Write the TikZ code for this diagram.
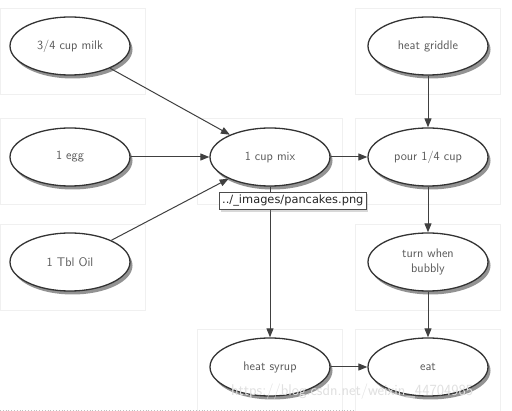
\documentclass[tikz,border=0pt]{standalone}
\usepackage{fontspec}
\newfontfamily\labfont{DejaVu Sans}
\usetikzlibrary{shadows,arrows.meta,shapes.geometric}
\begin{document}
\begin{tikzpicture}[x=1pt,y=-1pt,
  task/.style={ellipse,draw=black!80,line width=1.3pt,fill=white,minimum width=120pt,minimum height=58pt,
    font=\sffamily\fontsize{12.5}{15}\selectfont,text=black!65,align=center,inner sep=1pt,
    drop shadow={opacity=0.6,shadow xshift=2.5pt,shadow yshift=-3.5pt,fill=black!70}},
  panel/.style={draw=black!6,line width=0.5pt},
  conn/.style={draw=black!75,line width=1pt,-{Triangle[length=9pt,width=7pt]}}]
\useasboundingbox (0,0) rectangle (512,411);
\fill[white] (0,0) rectangle (512,411);
% faint panels
\foreach \x/\y in {0/8,0/118,0/224,197/118,197/329,355/8,355/118,355/224,355/329}
  \draw[panel] (\x,\y) rectangle ++(145,86);
\draw[black!25,dotted,line width=0.8pt] (0,410) -- (355,410);
% nodes
\node[task] (milk) at (70,46) {3/4 cup milk};
\node[task] (egg) at (70,157) {1 egg};
\node[task] (oil) at (70,262) {1 Tbl Oil};
\node[task] (mix) at (270,157) {1 cup mix};
\node[task] (griddle) at (428,46) {heat griddle};
\node[task] (pour) at (428,157) {pour 1/4 cup};
\node[task] (turn) at (428,262) {turn when\\bubbly};
\node[task] (syrup) at (270,367) {heat syrup};
\node[task] (eat) at (428,367) {eat};
% connectors
\draw[conn] (milk) -- (mix);
\draw[conn] (egg) -- (mix);
\draw[conn] (oil) -- (mix);
\draw[conn] (mix) -- (pour);
\draw[conn] (mix) -- (syrup);
\draw[conn] (griddle) -- (pour);
\draw[conn] (pour) -- (turn);
\draw[conn] (turn) -- (eat);
\draw[conn] (syrup) -- (eat);
% tooltip label
\node[draw=black!70,fill=white,font=\labfont\fontsize{11.4}{13}\selectfont,text=black!85,inner sep=3pt,anchor=north west,
  drop shadow={opacity=0.3,shadow xshift=2pt,shadow yshift=-2pt}] (lab) at (219,192) {../\_images/pancakes.png};
% watermark
\node[font=\fontsize{15.5}{17}\selectfont\sffamily,text=black!12,anchor=west,inner sep=0pt] (wm) at (231,392) {https://blog.csdn.net/weixin\_44704985};
\end{tikzpicture}
\end{document}
